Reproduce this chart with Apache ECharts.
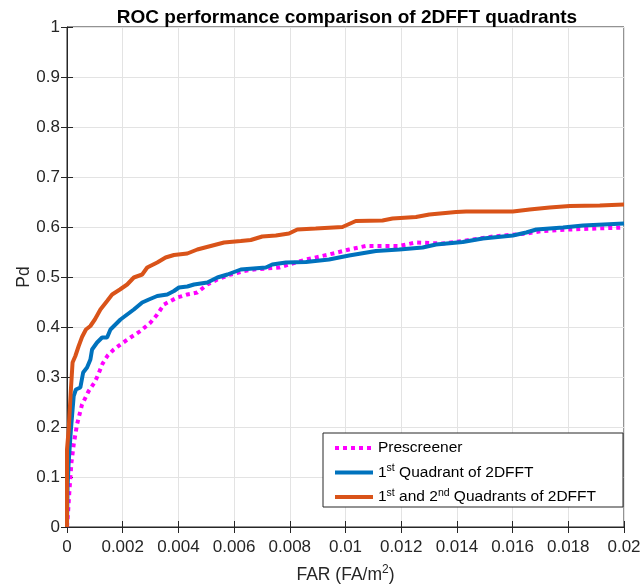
<!DOCTYPE html>
<html>
<head>
<meta charset="utf-8">
<script src="https://cdn.jsdelivr.net/npm/echarts@6/dist/echarts.min.js"></script>
<style>
  html, body { margin: 0; padding: 0; background: #fff; }
  #chart { width: 643px; height: 588px; }
</style>
</head>
<body>
<div id="chart"></div>
<script>
// ROC curves: [false alarm rate (FA/m^2), probability of detection]
const prescreener = [
  [0, 0], [0.00005, 0.04], [0.00009, 0.075], [0.00016, 0.129], [0.00024, 0.165],
  [0.00036, 0.205], [0.00054, 0.245], [0.00078, 0.272], [0.001, 0.29], [0.00112, 0.305],
  [0.00128, 0.327], [0.00146, 0.343], [0.00168, 0.355], [0.00192, 0.365], [0.00228, 0.379],
  [0.00264, 0.392], [0.003, 0.409], [0.00324, 0.425], [0.00348, 0.445], [0.00372, 0.452],
  [0.00396, 0.459], [0.00432, 0.465], [0.00468, 0.469], [0.00504, 0.485], [0.0054, 0.495],
  [0.00588, 0.505], [0.00636, 0.512], [0.00672, 0.515], [0.00762, 0.519], [0.00797, 0.525],
  [0.00858, 0.535], [0.00941, 0.545], [0.01013, 0.555], [0.01073, 0.562], [0.01193, 0.562],
  [0.01253, 0.569], [0.01349, 0.567], [0.01421, 0.572], [0.01529, 0.581], [0.01649, 0.587],
  [0.01709, 0.592], [0.01805, 0.595], [0.02, 0.599]
];
const quadrant1 = [
  [0, 0], [0.00002, 0.08], [0.00006, 0.129], [0.00014, 0.195], [0.00024, 0.262],
  [0.00032, 0.275], [0.00048, 0.279], [0.00058, 0.309], [0.00072, 0.319], [0.00084, 0.335],
  [0.0009, 0.355], [0.00108, 0.369], [0.00126, 0.379], [0.00144, 0.379], [0.00156, 0.395],
  [0.00174, 0.405], [0.00192, 0.415], [0.00216, 0.425], [0.0024, 0.435], [0.0027, 0.449],
  [0.00294, 0.455], [0.00324, 0.462], [0.0036, 0.465], [0.00384, 0.472], [0.00402, 0.479],
  [0.00432, 0.481], [0.00456, 0.485], [0.00504, 0.489], [0.0054, 0.499], [0.00576, 0.505],
  [0.00624, 0.515], [0.00714, 0.519], [0.00737, 0.525], [0.00786, 0.529], [0.00858, 0.53],
  [0.00941, 0.535], [0.01013, 0.543], [0.01109, 0.552], [0.01193, 0.555], [0.01277, 0.559],
  [0.01325, 0.565], [0.01421, 0.57], [0.01493, 0.577], [0.01601, 0.583], [0.01649, 0.589],
  [0.01685, 0.595], [0.01781, 0.599], [0.01853, 0.603], [0.02, 0.607]
];
const quadrants12 = [
  [0, 0], [0, 0.155], [0.00006, 0.195], [0.00014, 0.275], [0.0002, 0.329],
  [0.0003, 0.342], [0.00042, 0.362], [0.00054, 0.38], [0.00068, 0.395], [0.00084, 0.402],
  [0.001, 0.415], [0.0012, 0.435], [0.00144, 0.452], [0.00162, 0.465], [0.0019, 0.475],
  [0.00216, 0.485], [0.0024, 0.499], [0.0027, 0.505], [0.00288, 0.519], [0.00324, 0.529],
  [0.00354, 0.539], [0.00384, 0.544], [0.00432, 0.547], [0.00468, 0.555], [0.00516, 0.562],
  [0.00564, 0.569], [0.00624, 0.572], [0.0066, 0.574], [0.00701, 0.581], [0.0075, 0.583],
  [0.00797, 0.587], [0.00827, 0.595], [0.00893, 0.597], [0.00989, 0.6], [0.01037, 0.612],
  [0.01133, 0.613], [0.01169, 0.617], [0.01253, 0.62], [0.01301, 0.625], [0.01397, 0.63],
  [0.01433, 0.631], [0.01601, 0.631], [0.01661, 0.635], [0.01733, 0.639], [0.01805, 0.642],
  [0.01913, 0.643], [0.02, 0.645]
];

const seriesNames = ['Prescreener', '1st Quadrant of 2DFFT', '1st and 2nd Quadrants of 2DFFT'];
// legend text with superscript ordinals
const legendRich = {
  'Prescreener': '{n|Prescreener}',
  '1st Quadrant of 2DFFT': '{n|1}{s|st}{n| Quadrant of 2DFFT}',
  '1st and 2nd Quadrants of 2DFFT': '{n|1}{s|st}{n| and 2}{s|nd}{n| Quadrants of 2DFFT}'
};

const xTickLabels = ['0', '0.002', '0.004', '0.006', '0.008', '0.01', '0.012', '0.014', '0.016', '0.018', '0.02'];
const yTickLabels = ['0', '0.1', '0.2', '0.3', '0.4', '0.5', '0.6', '0.7', '0.8', '0.9', '1'];

const FONT = '"Liberation Sans", Arial, Helvetica, sans-serif';
const AX = '#262626';
const GRIDC = '#e3e3e3';

const chart = echarts.init(document.getElementById('chart'), null, { renderer: 'canvas' });

const tickInside = { show: true, inside: true, length: 6, lineStyle: { color: AX, width: 1 } };

chart.setOption({
  animation: false,
  backgroundColor: '#ffffff',
  title: {
    text: 'ROC performance comparison of 2DFFT quadrants',
    left: 342, top: 3, textAlign: 'center',
    textStyle: { fontFamily: FONT, fontSize: 19, fontWeight: 'bold', color: '#000' }
  },
  grid: {
    left: 67, right: 19, top: 27, bottom: 61,
    containLabel: false, outerBoundsMode: 'none',
    show: true, borderColor: AX, borderWidth: 1, backgroundColor: 'transparent'
  },
  legend: {
    data: seriesNames,
    orient: 'vertical',
    left: 323, top: 433,
    padding: [7, 27, 2, 10],
    itemWidth: 38, itemHeight: 14, itemGap: 7,
    backgroundColor: '#fff',
    borderColor: AX, borderWidth: 1,
    // line-only legend keys (no marker in the middle)
    itemStyle: { opacity: 0 },
    lineStyle: { width: 4 },
    formatter: (name) => legendRich[name],
    textStyle: {
      fontFamily: FONT, color: '#000',
      rich: {
        n: { fontFamily: FONT, fontSize: 15.5, lineHeight: 19, color: '#000' },
        s: { fontFamily: FONT, fontSize: 10.5, lineHeight: 9, verticalAlign: 'top', color: '#000' }
      }
    }
  },
  xAxis: [{
    type: 'value', min: 0, max: 0.02, interval: 0.002,
    position: 'bottom',
    name: '{n|FAR (FA/m}{s|2}{n|)}',
    nameLocation: 'middle', nameGap: 37, nameMoveOverlap: false,
    nameTextStyle: {
      rich: {
        n: { fontFamily: FONT, fontSize: 17.5, lineHeight: 22, color: AX },
        s: { fontFamily: FONT, fontSize: 12, lineHeight: 11, verticalAlign: 'top', color: AX }
      }
    },
    axisLine: { show: true, lineStyle: { color: AX, width: 1 } },
    axisTick: tickInside,
    axisLabel: {
      fontFamily: FONT, fontSize: 17, color: AX, margin: 12,
      formatter: (v) => xTickLabels[Math.round(v / 0.002)]
    },
    splitLine: { show: true, lineStyle: { color: GRIDC, width: 1 } }
  }, {
    type: 'value', min: 0, max: 0.02, interval: 0.002,
    position: 'top',
    axisLine: { show: false },
    axisTick: tickInside,
    axisLabel: { show: false },
    splitLine: { show: false }
  }],
  yAxis: [{
    type: 'value', min: 0, max: 1, interval: 0.1,
    position: 'left',
    name: 'Pd',
    nameLocation: 'middle', nameGap: 34, nameMoveOverlap: false,
    nameTextStyle: { fontFamily: FONT, fontSize: 17.5, color: AX },
    axisLine: { show: true, lineStyle: { color: AX, width: 1 } },
    axisTick: tickInside,
    axisLabel: {
      fontFamily: FONT, fontSize: 17, color: AX, margin: 7,
      formatter: (v) => yTickLabels[Math.round(v / 0.1)]
    },
    splitLine: { show: true, lineStyle: { color: GRIDC, width: 1 } }
  }, {
    type: 'value', min: 0, max: 1, interval: 0.1,
    position: 'right',
    axisLine: { show: false },
    axisTick: tickInside,
    axisLabel: { show: false },
    splitLine: { show: false }
  }],
  series: [{
    name: seriesNames[0], type: 'line', data: prescreener,
    xAxisIndex: 0, yAxisIndex: 0,
    symbol: 'none', showSymbol: false,
    color: '#FF00FF',
    lineStyle: { color: '#FF00FF', width: 4, type: [4, 4], cap: 'butt' }
  }, {
    name: seriesNames[1], type: 'line', data: quadrant1,
    xAxisIndex: 0, yAxisIndex: 0,
    symbol: 'none', showSymbol: false,
    color: '#0072BD',
    lineStyle: { color: '#0072BD', width: 4, cap: 'butt' }
  }, {
    name: seriesNames[2], type: 'line', data: quadrants12,
    xAxisIndex: 0, yAxisIndex: 0,
    symbol: 'none', showSymbol: false,
    color: '#D95319',
    lineStyle: { color: '#D95319', width: 4, cap: 'butt' }
  }]
});
</script>
</body>
</html>
